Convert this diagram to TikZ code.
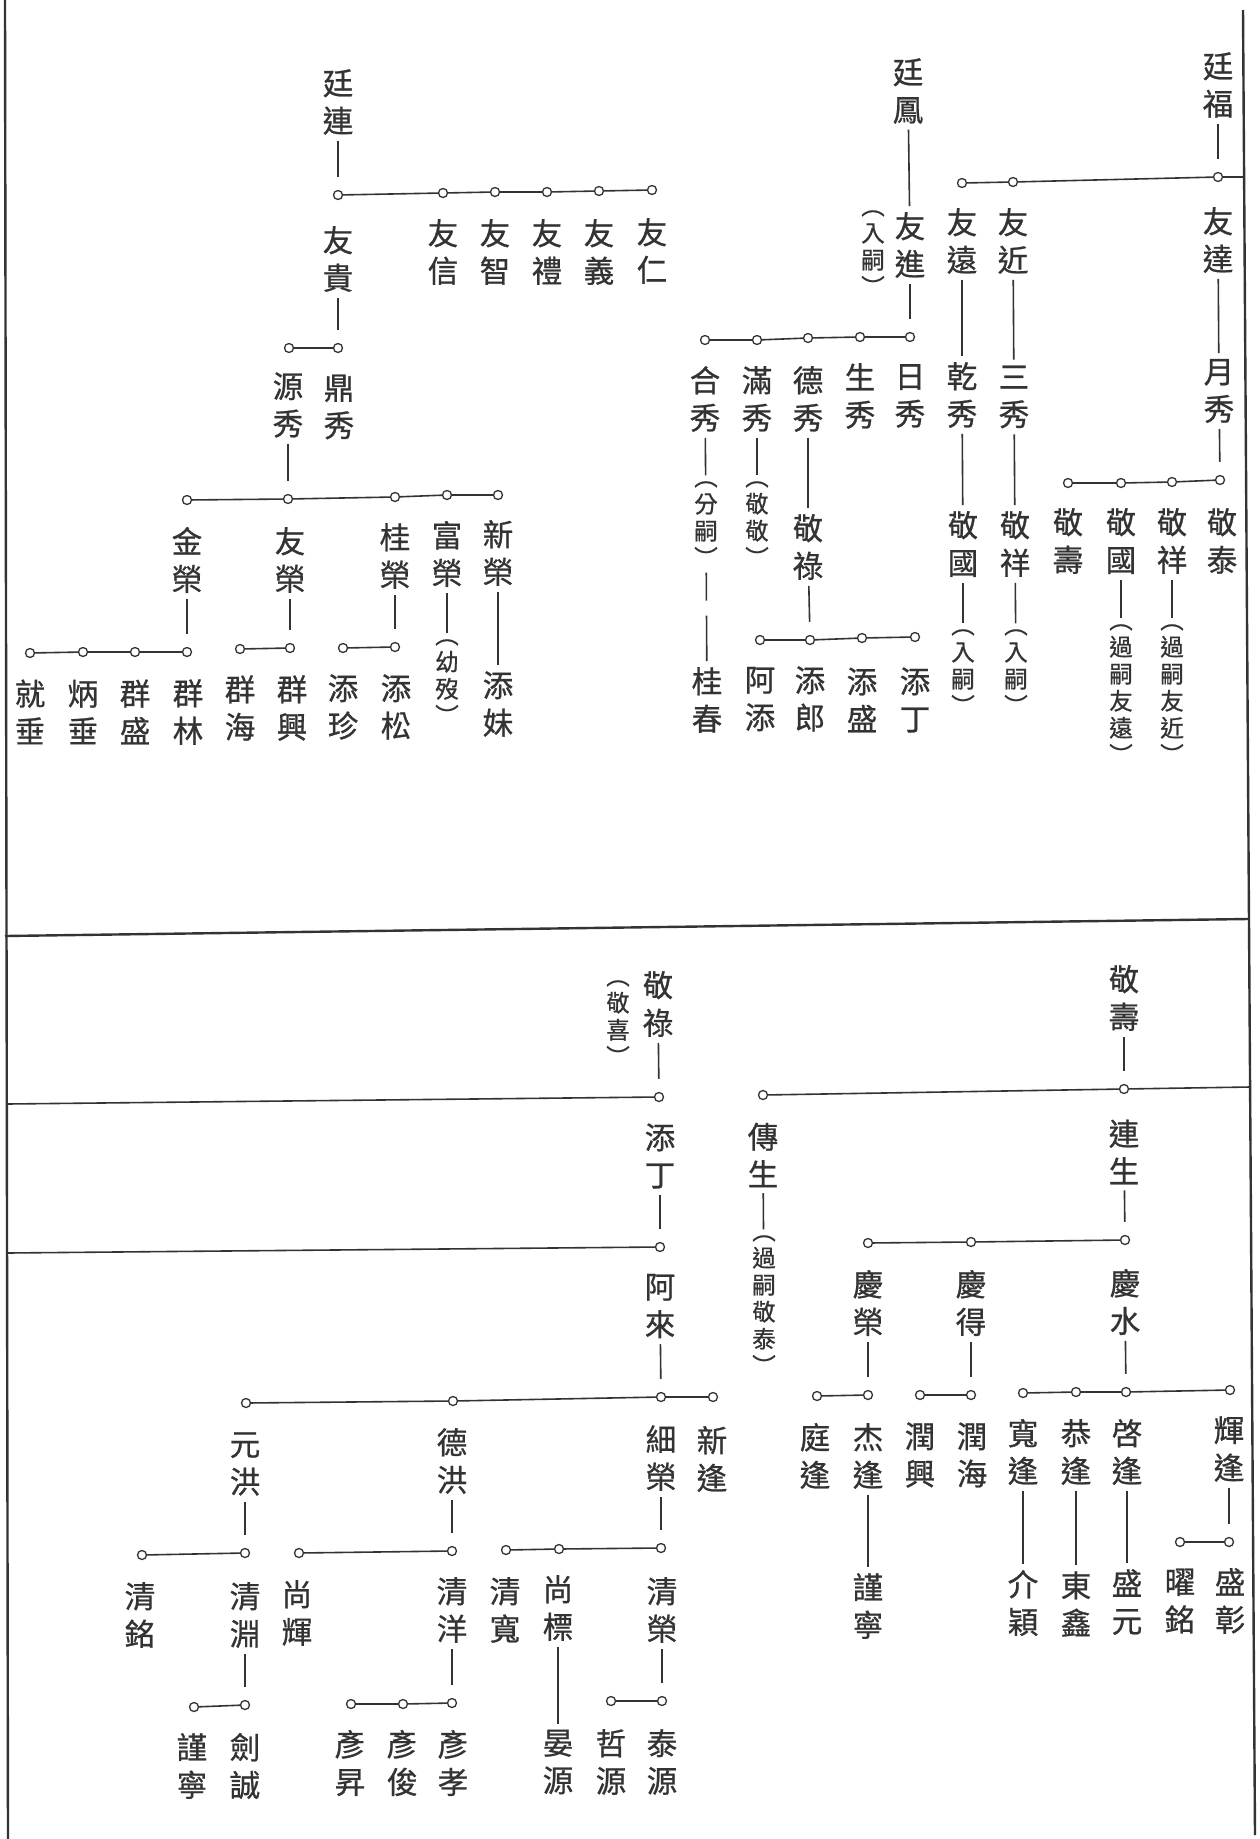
\documentclass[tikz,border=0pt]{standalone}
\usepackage{fontspec}
\newfontfamily\cjk[FakeBold=0.8]{Noto Sans CJK TC}
\definecolor{ink}{HTML}{333333}
\begin{document}
\begin{tikzpicture}[x=1pt,y=-1pt,
  nm/.style={font=\cjk\fontsize{30.5}{37.5}\selectfont, align=center, inner sep=0pt, outer sep=6pt, text=ink},
  ann/.style={font=\cjk\fontsize{23.5}{27}\selectfont, align=center, inner sep=0pt, outer sep=6pt, text=ink},
  jdot/.style={circle, draw=ink, fill=white, line width=1.3pt, minimum size=9pt, inner sep=0pt},
  ln/.style={draw=ink, line width=1.6pt},
  tocirc/.style={ln, shorten >=13pt},
  frameline/.style={draw=ink, line width=2.4pt}]
\useasboundingbox[fill=white] (0,0) rectangle (1259,1839);

% ---------- frame ----------
\coordinate (fL1) at (5,0);    \coordinate (fL2) at (8,1839);
\coordinate (fR1) at (1243,10); \coordinate (fR2) at (1255,1835);
\coordinate (dv1) at (5,936);  \coordinate (dv2) at (1248,919);
\draw[frameline] (fL1) -- (fL2);
\draw[frameline] (fR1) -- (fR2);
\draw[frameline] (dv1) -- (dv2);

% ================= TOP =================
% --- 廷連 ---
\node[nm] (tl) at (338,102) {廷\\連};
\node[jdot] (tl0) at (338,195) {};
\node[jdot] (tl1) at (443,193) {};
\node[jdot] (tl2) at (495,192) {};
\node[jdot] (tl3) at (547,192) {};
\node[jdot] (tl4) at (599,191) {};
\node[jdot] (tl5) at (652,190) {};
\draw[ln] (tl0) -- (tl1) -- (tl2) -- (tl3) -- (tl4) -- (tl5);
\draw[tocirc] (tl) -- (tl0);
\node[nm] (yougui) at (338,259) {友\\貴};
\node[nm] (youxin) at (443,252) {友\\信};
\node[nm] (youzhi) at (495,252) {友\\智};
\node[nm] (youli) at (547,252) {友\\禮};
\node[nm] (youyi) at (599,252) {友\\義};
\node[nm] (youren) at (652,251) {友\\仁};

\node[jdot] (yg0) at (338,348) {};
\node[jdot] (yg1) at (289,348) {};
\draw[ln] (yg1) -- (yg0);
\draw[tocirc] (yougui) -- (yg0);
\node[nm] (dingxiu) at (339,407) {鼎\\秀};
\node[nm] (yuanxiu) at (288,405) {源\\秀};

\node[jdot] (ys0) at (187,500) {};
\node[jdot] (ys1) at (288,499) {};
\node[jdot] (ys2) at (395,497) {};
\node[jdot] (ys3) at (447,495) {};
\node[jdot] (ys4) at (498,495) {};
\draw[ln] (ys0) -- (ys1) -- (ys2) -- (ys3) -- (ys4);
\draw[tocirc] (yuanxiu) -- (ys1);
\node[nm] (jinrong) at (187,560) {金\\榮};
\node[nm] (yourong) at (290,560) {友\\榮};
\node[nm] (guirong) at (395,556) {桂\\榮};
\node[nm] (furong) at (447,554) {富\\榮};
\node[nm] (xinrong) at (498,553) {新\\榮};

\node[jdot] (jr0) at (187,652) {};
\node[jdot] (jr1) at (135,652) {};
\node[jdot] (jr2) at (83,652) {};
\node[jdot] (jr3) at (30,653) {};
\draw[ln] (jr3) -- (jr2) -- (jr1) -- (jr0);
\draw[tocirc] (jinrong) -- (jr0);
\node[nm] (qunlin) at (188,712) {群\\林};
\node[nm] (qunsheng) at (135,712) {群\\盛};
\node[nm] (bingchui) at (83,712) {炳\\垂};
\node[nm] (jiuchui) at (30,712) {就\\垂};

\node[jdot] (yr0) at (290,648) {};
\node[jdot] (yr1) at (240,649) {};
\draw[ln] (yr1) -- (yr0);
\draw[tocirc] (yourong) -- (yr0);
\node[nm] (qunxing) at (292,708) {群\\興};
\node[nm] (qunhai) at (240,708) {群\\海};

\node[jdot] (gr0) at (395,647) {};
\node[jdot] (gr1) at (343,648) {};
\draw[ln] (gr1) -- (gr0);
\draw[tocirc] (guirong) -- (gr0);
\node[nm] (tiansong) at (396,707) {添\\松};
\node[nm] (tianzhen) at (343,707) {添\\珍};

\node[ann] (youmo) at (447,682) {︵\\幼\\歿\\︶};
\draw[ln] (furong) -- (youmo);
\node[nm] (tianmei) at (498,704) {添\\妹};
\draw[ln] (xinrong) -- (tianmei);

% --- 廷鳳 ---
\node[nm] (tingfeng) at (908,91) {廷\\鳳};
\node[nm] (youjin2) at (910,245) {友\\進};
\node[ann] (rusiA) at (873,253) {︵\\入\\嗣\\︶};
\draw[ln] (tingfeng) -- (youjin2);
\node[jdot] (fj0) at (910,337) {};
\node[jdot] (fj1) at (860,337) {};
\node[jdot] (fj2) at (808,338) {};
\node[jdot] (fj3) at (757,340) {};
\node[jdot] (fj4) at (705,340) {};
\draw[ln] (fj4) -- (fj3) -- (fj2) -- (fj1) -- (fj0);
\draw[tocirc] (youjin2) -- (fj0);
\node[nm] (rixiu) at (910,396) {日\\秀};
\node[nm] (shengxiu) at (860,396) {生\\秀};
\node[nm] (dexiu) at (808,399) {德\\秀};
\node[nm] (manxiu) at (757,399) {滿\\秀};
\node[nm] (hexiu) at (705,399) {合\\秀};

\node[ann] (fensi) at (706,524) {︵\\分\\嗣\\︶};
\draw[ln] (hexiu) -- (fensi);
\node[nm] (guichun) at (707,700) {桂\\春};
\draw[ln, dash pattern=on 28pt off 15pt on 80pt] (fensi) -- (guichun);
\node[ann] (jingjing) at (757,524) {︵\\敬\\敬\\︶};
\draw[ln] (manxiu) -- (jingjing);
\node[nm] (jinglu) at (808,547) {敬\\祿};
\draw[ln] (dexiu) -- (jinglu);

\node[jdot] (jl0) at (760,640) {};
\node[jdot] (jl1) at (810,640) {};
\node[jdot] (jl2) at (862,638) {};
\node[jdot] (jl3) at (915,637) {};
\draw[ln] (jl0) -- (jl1) -- (jl2) -- (jl3);
\draw[tocirc] (jinglu) -- (jl1);
\node[nm] (atian) at (760,699) {阿\\添};
\node[nm] (tianlang) at (810,699) {添\\郎};
\node[nm] (tiansheng) at (862,700) {添\\盛};
\node[nm] (tianding) at (915,700) {添\\丁};

% --- 廷福 ---
\node[nm] (tingfu) at (1218,85) {廷\\福};
\node[jdot] (tf0) at (1218,177) {};
\node[jdot] (tf1) at (1013,182) {};
\node[jdot] (tf2) at (962,183) {};
\coordinate (tfR) at (1244,177);
\draw[ln] (tf2) -- (tf1) -- (tf0) -- (tfR);
\draw[tocirc] (tingfu) -- (tf0);
\node[nm] (youda) at (1218,240) {友\\達};
\node[nm] (youjin) at (1013,241) {友\\近};
\node[nm] (youyuan) at (962,241) {友\\遠};
\node[nm] (yuexiu) at (1219,391) {月\\秀};
\node[nm] (sanxiu) at (1014,397) {三\\秀};
\node[nm] (qianxiu) at (962,395) {乾\\秀};
\draw[ln] (youda) -- (yuexiu);
\draw[ln] (youjin) -- (sanxiu);
\draw[ln] (youyuan) -- (qianxiu);
\node[nm] (jingxiangA) at (1015,544) {敬\\祥};
\node[nm] (jingguoA) at (963,544) {敬\\國};
\draw[ln] (sanxiu) -- (jingxiangA);
\draw[ln] (qianxiu) -- (jingguoA);
\node[ann] (rusiB) at (1016,672) {︵\\入\\嗣\\︶};
\node[ann] (rusiC) at (963,672) {︵\\入\\嗣\\︶};
\draw[ln] (jingxiangA) -- (rusiB);
\draw[ln] (jingguoA) -- (rusiC);

\node[jdot] (yx0) at (1220,480) {};
\node[jdot] (yx1) at (1172,482) {};
\node[jdot] (yx2) at (1121,483) {};
\node[jdot] (yx3) at (1068,483) {};
\draw[ln] (yx3) -- (yx2) -- (yx1) -- (yx0);
\draw[tocirc] (yuexiu) -- (yx0);
\node[nm] (jingtai) at (1222,541) {敬\\泰};
\node[nm] (jingxiangB) at (1172,541) {敬\\祥};
\node[nm] (jingguoB) at (1121,541) {敬\\國};
\node[nm] (jingshouA) at (1068,541) {敬\\壽};
\node[ann] (guosiA) at (1172,694) {︵\\過\\嗣\\友\\近\\︶};
\node[ann] (guosiB) at (1121,694) {︵\\過\\嗣\\友\\遠\\︶};
\draw[ln] (jingxiangB) -- (guosiA);
\draw[ln] (jingguoB) -- (guosiB);

% ================= BOTTOM =================
% --- 敬祿 line ---
\node[nm] (jinglu2) at (658,1004) {敬\\祿};
\node[ann] (jingxi) at (618,1023) {︵\\敬\\喜\\︶};
\node[jdot] (b1) at (659,1097) {};
\coordinate (bL1) at (7,1104);
\draw[ln] (bL1) -- (b1);
\draw[tocirc] (jinglu2) -- (b1);
\node[nm] (tianding2) at (660,1156) {添\\丁};
\node[jdot] (b2) at (660,1247) {};
\coordinate (bL2) at (7,1253);
\draw[ln] (bL2) -- (b2);
\draw[tocirc] (tianding2) -- (b2);
\node[nm] (alai) at (660,1306) {阿\\來};

\node[jdot] (al0) at (246,1403) {};
\node[jdot] (al1) at (453,1401) {};
\node[jdot] (al2) at (661,1397) {};
\node[jdot] (al3) at (713,1397) {};
\draw[ln] (al0) -- (al1) -- (al2) -- (al3);
\draw[tocirc] (alai) -- (al2);
\node[nm] (yuanhong) at (245,1464) {元\\洪};
\node[nm] (dehong) at (452,1461) {德\\洪};
\node[nm] (xirong) at (661,1458) {細\\榮};
\node[nm] (xinfeng) at (712,1459) {新\\逢};

\node[jdot] (xr0) at (506,1550) {};
\node[jdot] (xr1) at (559,1549) {};
\node[jdot] (xr2) at (661,1548) {};
\draw[ln] (xr0) -- (xr1) -- (xr2);
\draw[tocirc] (xirong) -- (xr2);
\node[nm] (qingkuan) at (505,1610) {清\\寬};
\node[nm] (shangbiao) at (558,1608) {尚\\標};
\node[nm] (qingrong) at (662,1610) {清\\榮};
\node[nm] (yanyuan) at (558,1762) {晏\\源};
\draw[ln] (shangbiao) -- (yanyuan);
\node[jdot] (qr0) at (611,1701) {};
\node[jdot] (qr1) at (662,1701) {};
\draw[ln] (qr0) -- (qr1);
\draw[tocirc] (qingrong) -- (qr1);
\node[nm] (zheyuan) at (611,1762) {哲\\源};
\node[nm] (taiyuan) at (662,1762) {泰\\源};

\node[jdot] (dh0) at (299,1553) {};
\node[jdot] (dh1) at (452,1551) {};
\draw[ln] (dh0) -- (dh1);
\draw[tocirc] (dehong) -- (dh1);
\node[nm] (shanghui) at (297,1613) {尚\\輝};
\node[nm] (qingyang) at (452,1610) {清\\洋};
\node[jdot] (qy0) at (351,1704) {};
\node[jdot] (qy1) at (403,1704) {};
\node[jdot] (qy2) at (452,1703) {};
\draw[ln] (qy0) -- (qy1) -- (qy2);
\draw[tocirc] (qingyang) -- (qy2);
\node[nm] (yansheng) at (350,1763) {彥\\昇};
\node[nm] (yanjun) at (402,1763) {彥\\俊};
\node[nm] (yanxiao) at (453,1763) {彥\\孝};

\node[jdot] (yh0) at (142,1555) {};
\node[jdot] (yh1) at (245,1553) {};
\draw[ln] (yh0) -- (yh1);
\draw[tocirc] (yuanhong) -- (yh1);
\node[nm] (qingming) at (140,1615) {清\\銘};
\node[nm] (qingyuan) at (245,1615) {清\\淵};
\node[jdot] (qu0) at (194,1707) {};
\node[jdot] (qu1) at (245,1705) {};
\draw[ln] (qu0) -- (qu1);
\draw[tocirc] (qingyuan) -- (qu1);
\node[nm] (jinning) at (192,1766) {謹\\寧};
\node[nm] (jiancheng) at (245,1766) {劍\\誠};

% --- 敬壽 line ---
\node[nm] (jingshou2) at (1124,998) {敬\\壽};
\node[jdot] (js0) at (1124,1089) {};
\node[jdot] (js1) at (763,1095) {};
\coordinate (jsR) at (1250,1087);
\draw[ln] (js1) -- (js0) -- (jsR);
\draw[tocirc] (jingshou2) -- (js0);
\node[nm] (chuansheng) at (763,1155) {傳\\生};
\node[ann] (guosiC) at (764,1305) {︵\\過\\嗣\\敬\\泰\\︶};
\draw[ln] (chuansheng) -- (guosiC);
\node[nm] (liansheng) at (1124,1152) {連\\生};

\node[jdot] (ls0) at (868,1243) {};
\node[jdot] (ls1) at (971,1242) {};
\node[jdot] (ls2) at (1125,1240) {};
\draw[ln] (ls0) -- (ls1) -- (ls2);
\draw[tocirc] (liansheng) -- (ls2);
\node[nm] (qingrong2) at (868,1303) {慶\\榮};
\node[nm] (qingde) at (971,1303) {慶\\得};
\node[nm] (qingshui) at (1125,1302) {慶\\水};

\node[jdot] (qs0) at (1023,1393) {};
\node[jdot] (qs1) at (1076,1392) {};
\node[jdot] (qs2) at (1126,1392) {};
\node[jdot] (qs3) at (1230,1390) {};
\draw[ln] (qs0) -- (qs1) -- (qs2) -- (qs3);
\draw[tocirc] (qingshui) -- (qs2);
\node[nm] (qifeng) at (1127,1452) {啓\\逢};
\node[nm] (gongfeng) at (1076,1452) {恭\\逢};
\node[nm] (kuanfeng) at (1023,1452) {寬\\逢};
\node[nm] (huifeng) at (1229,1449) {輝\\逢};
\node[nm] (shengyuan) at (1127,1602) {盛\\元};
\node[nm] (dongxin) at (1076,1604) {東\\鑫};
\node[nm] (jieying) at (1023,1603) {介\\穎};
\draw[ln] (qifeng) -- (shengyuan);
\draw[ln] (gongfeng) -- (dongxin);
\draw[ln] (kuanfeng) -- (jieying);
\node[jdot] (hf0) at (1180,1542) {};
\node[jdot] (hf1) at (1229,1542) {};
\draw[ln] (hf0) -- (hf1);
\draw[tocirc] (huifeng) -- (hf1);
\node[nm] (yaoming) at (1180,1601) {曜\\銘};
\node[nm] (shengzhang) at (1230,1601) {盛\\彰};

\node[jdot] (qd0) at (920,1395) {};
\node[jdot] (qd1) at (971,1395) {};
\draw[ln] (qd0) -- (qd1);
\draw[tocirc] (qingde) -- (qd1);
\node[nm] (runxing) at (920,1455) {潤\\興};
\node[nm] (runhai) at (972,1455) {潤\\海};

\node[jdot] (qk0) at (817,1396) {};
\node[jdot] (qk1) at (868,1395) {};
\draw[ln] (qk0) -- (qk1);
\draw[tocirc] (qingrong2) -- (qk1);
\node[nm] (tingfeng2) at (815,1456) {庭\\逢};
\node[nm] (jiefeng) at (868,1456) {杰\\逢};
\node[nm] (jinning2) at (868,1606) {謹\\寧};
\draw[ln] (jiefeng) -- (jinning2);

\end{tikzpicture}
\end{document}
